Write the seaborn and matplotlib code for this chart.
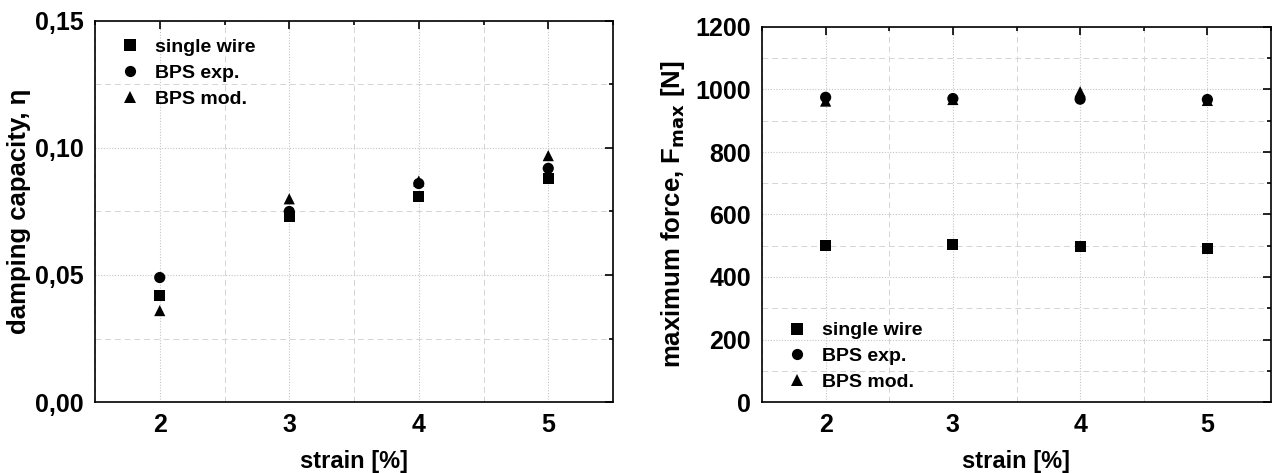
import matplotlib
matplotlib.use("Agg")
import matplotlib.pyplot as plt
import matplotlib.ticker as mticker
import seaborn as sns
import pandas as pd

strain = [2, 3, 4, 5]
series_names = ["single wire", "BPS exp.", "BPS mod."]
damping_single = [0.042, 0.073, 0.081, 0.088]
damping_exp = [0.049, 0.075, 0.086, 0.092]
damping_mod = [0.036, 0.080, 0.087, 0.097]
force_single = [501, 504, 497, 490]
force_exp = [975, 971, 969, 968]
force_mod = [963, 968, 993, 965]

rows = []
for name, d, f in zip(series_names, [damping_single, damping_exp, damping_mod],
                      [force_single, force_exp, force_mod]):
    for x, dv, fv in zip(strain, d, f):
        rows.append({"strain": x, "series": name, "damping": dv, "force": fv})
df = pd.DataFrame(rows)

sns.set_theme(style="white")
plt.rcParams["font.family"] = ["Liberation Sans", "DejaVu Sans"]
plt.rcParams["font.weight"] = "bold"
plt.rcParams["text.color"] = "black"
plt.rcParams["axes.labelcolor"] = "black"
plt.rcParams["xtick.color"] = "black"
plt.rcParams["ytick.color"] = "black"

W, H = 1273, 473
fig = plt.figure(figsize=(W / 100, H / 100), dpi=100)
ax1 = fig.add_axes([95 / W, (H - 402) / H, (613 - 95) / W, (402 - 21) / H])
ax2 = fig.add_axes([762 / W, (H - 402) / H, (1271 - 762) / W, (402 - 27) / H])

markers = {"single wire": "s", "BPS exp.": "o", "BPS mod.": "^"}

def style_axes(ax):
    ax.set_xlim(1.5, 5.5)
    ax.xaxis.set_major_locator(mticker.FixedLocator(strain))
    ax.xaxis.set_minor_locator(mticker.MultipleLocator(0.5))
    ax.tick_params(which="both", direction="in", top=True, right=True,
                   labelsize=18, width=1.2, colors="black", pad=8)
    ax.tick_params(which="major", length=6)
    ax.tick_params(which="minor", length=3)
    ax.grid(True, which="major", color="#c4c4c4", linestyle=(0, (1, 1.5)), linewidth=0.8)
    ax.grid(True, which="minor", color="#d4d4d4", linestyle=(0, (6, 4)), linewidth=0.7)
    ax.set_axisbelow(True)
    for s in ax.spines.values():
        s.set_color("black")
        s.set_linewidth(1.2)
    for lab in ax.get_xticklabels() + ax.get_yticklabels():
        lab.set_fontweight("bold")
    ax.set_xlabel("strain [%]", fontsize=17, fontweight="bold", labelpad=9, color="black")

sns.scatterplot(data=df, x="strain", y="damping", style="series", markers=markers,
                color="black", s=65, edgecolor="black", linewidth=0, ax=ax1,
                style_order=series_names)
ax1.set_ylim(0, 0.15)
ax1.yaxis.set_major_locator(mticker.MultipleLocator(0.05))
ax1.yaxis.set_minor_locator(mticker.MultipleLocator(0.025))
ax1.yaxis.set_major_formatter(mticker.FuncFormatter(lambda v, p: f"{v:.2f}".replace(".", ",")))
style_axes(ax1)
ax1.set_ylabel("damping capacity, η", fontsize=18.5, fontweight="bold", labelpad=3, color="black")
leg1 = ax1.legend(loc="upper left", frameon=False, fontsize=14, handletextpad=0.3,
                  borderaxespad=0.4, labelspacing=0.42, markerscale=1.0,
                  bbox_to_anchor=(0.0, 0.995))
for t in leg1.get_texts():
    t.set_fontweight("bold")
    t.set_color("black")

sns.scatterplot(data=df, x="strain", y="force", style="series", markers=markers,
                color="black", s=65, edgecolor="black", linewidth=0, ax=ax2,
                style_order=series_names)
ax2.set_ylim(0, 1200)
ax2.yaxis.set_major_locator(mticker.MultipleLocator(200))
ax2.yaxis.set_minor_locator(mticker.MultipleLocator(100))
style_axes(ax2)
ax2.set_ylabel("maximum force, F$_{\\mathbf{max}}$ [N]", fontsize=18.5, fontweight="bold",
               labelpad=6, color="black")
leg2 = ax2.legend(loc="lower left", frameon=False, fontsize=14, handletextpad=0.3,
                  borderaxespad=0.4, labelspacing=0.42, bbox_to_anchor=(0.0, -0.012))
for t in leg2.get_texts():
    t.set_fontweight("bold")
    t.set_color("black")

fig.savefig("out.png", dpi=100, facecolor="white")
